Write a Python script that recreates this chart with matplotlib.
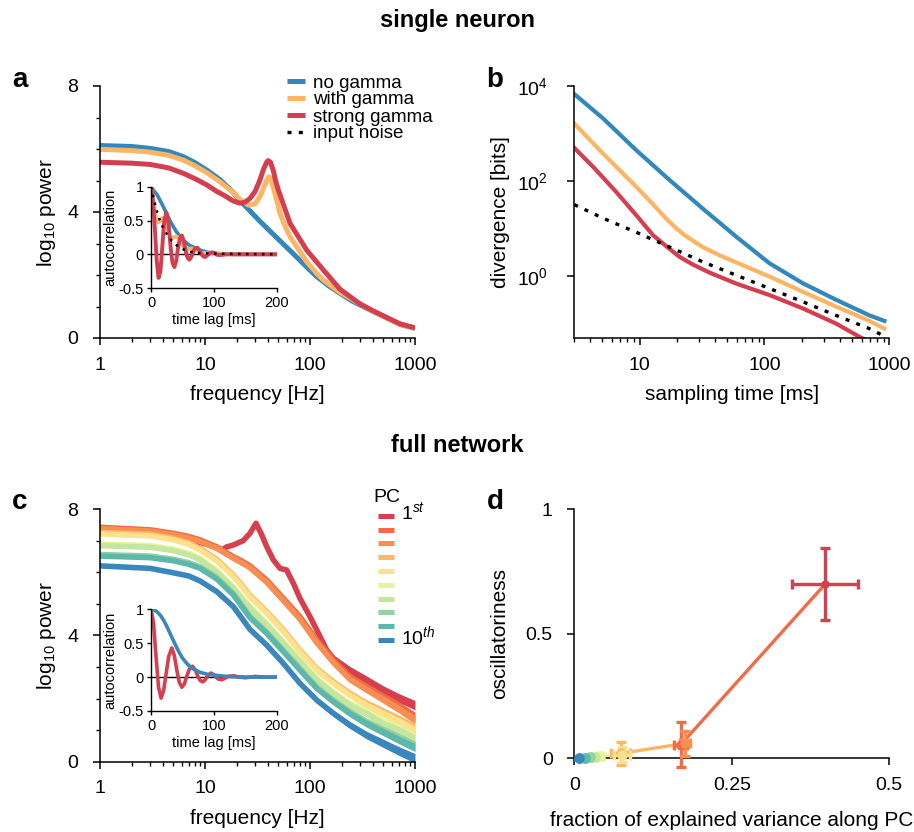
import numpy as np
import matplotlib
matplotlib.use('Agg')
import matplotlib.pyplot as plt
from matplotlib.lines import Line2D
from matplotlib.ticker import FixedLocator, NullFormatter, NullLocator, LogLocator

plt.rcParams['font.family'] = ['Liberation Sans', 'DejaVu Sans']
plt.rcParams['mathtext.fontset'] = 'custom'
plt.rcParams['mathtext.rm'] = 'Liberation Sans'
plt.rcParams['mathtext.it'] = 'Liberation Sans:italic'
plt.rcParams['axes.unicode_minus'] = False

# ---------------- data ----------------
c_nogamma = '#3288bd'
c_gamma = '#fdb463'
c_strong = '#d53e4f'
pc_colors = ['#d6404e', '#f26a46', '#f98e52', '#fdb865', '#fee18d',
             '#e9f49a', '#c4e6a0', '#90d3a0', '#5db8aa', '#3a87bd']

# panel a: single-neuron power spectra (log10 power)
freq_nogamma = [1, 2, 3, 4.5, 6.2, 8, 10.4, 14, 18.6, 21.5, 25, 33, 48, 70, 100, 116,
                150, 193, 250, 400, 720, 1000]
pow_nogamma = [6.11, 6.08, 6.02, 5.92, 5.76, 5.57, 5.33, 5.02, 4.62, 4.36, 4.14, 3.72,
               3.19, 2.66, 2.15, 1.95, 1.66, 1.42, 1.18, 0.84, 0.43, 0.31]
freq_gamma = [1, 2, 3, 4.5, 6.2, 8, 10.4, 14, 18.6, 21.5, 25.9, 30, 33.4, 36, 38.7, 40.5,
              42.5, 44.6, 48, 51.8, 57, 64.5, 75, 93, 116, 134, 193, 400, 720, 1000]
pow_gamma = [5.99, 5.95, 5.90, 5.80, 5.65, 5.47, 5.25, 4.95, 4.62, 4.40, 4.22, 4.26, 4.49,
             4.75, 5.0, 5.12, 5.05, 4.80, 4.40, 3.96, 3.6, 3.22, 2.89, 2.42, 2.05, 1.84,
             1.45, 0.84, 0.43, 0.31]
freq_strong = [1, 2, 3, 4.5, 6.2, 8, 10.4, 13, 15, 18.6, 21.5, 24, 26.8, 30, 33.4, 36,
               38.7, 40, 42, 44.6, 47, 49.9, 55, 64.5, 75, 93, 116, 134, 193, 300, 400,
               720, 1000]
pow_strong = [5.58, 5.55, 5.51, 5.40, 5.23, 5.06, 4.86, 4.65, 4.54, 4.35, 4.28, 4.31,
              4.43, 4.65, 5.02, 5.35, 5.58, 5.63, 5.58, 5.33, 5.0, 4.70, 4.3, 3.64, 3.29,
              2.79, 2.41, 2.16, 1.55, 1.08, 0.86, 0.45, 0.32]

# panel a inset: autocorrelations
lag_nogamma = [0, 10, 20, 30, 40, 50, 60, 75, 90, 110, 130, 200]
ac_nogamma = [1.0, 0.88, 0.70, 0.50, 0.34, 0.22, 0.14, 0.07, 0.03, 0.01, 0.0, 0.0]
lag_gamma = [0, 3, 6, 9, 12, 15, 18, 21, 24, 27, 30, 33, 36, 40, 44, 48, 52, 56, 60, 65,
             70, 75, 80, 85, 90, 100, 120, 200]
ac_gamma = [1.0, 0.82, 0.62, 0.5, 0.47, 0.5, 0.54, 0.52, 0.44, 0.34, 0.27, 0.24, 0.25,
            0.27, 0.24, 0.17, 0.11, 0.08, 0.08, 0.09, 0.07, 0.04, 0.02, 0.02, 0.02, 0.01,
            0.0, 0.0]
lag_strong = [0, 3, 6, 9, 12, 15, 18, 21, 24.5, 28, 31, 34, 37, 40, 43, 46, 49, 52, 55,
              58, 61, 64, 67, 70, 73.5, 77, 80, 83, 86, 90, 94, 98, 102, 106, 110, 120, 200]
ac_strong = [1.0, 0.82, 0.4, -0.08, -0.35, -0.25, 0.12, 0.5, 0.62, 0.45, 0.12, -0.12,
             -0.19, -0.1, 0.1, 0.24, 0.28, 0.2, 0.05, -0.05, -0.08, -0.04, 0.04, 0.09,
             0.1, 0.06, 0.0, -0.03, -0.04, -0.01, 0.02, 0.03, 0.01, -0.01, -0.01, 0.0, 0.0]
lag_noise = [0, 5, 10, 15, 20, 25, 30, 40, 50, 60, 75, 100, 200]
ac_noise = [1.0, 0.8, 0.62, 0.48, 0.38, 0.3, 0.23, 0.14, 0.08, 0.04, 0.02, 0.01, 0.0]

# panel b: divergence [bits] vs sampling time [ms]
t_nogamma = [3, 5.09, 9.4, 17.4, 32.1, 59.3, 110, 203, 374, 692, 912]
div_nogamma = [6760, 2090, 447, 105, 26.3, 6.8, 1.86, 0.71, 0.32, 0.15, 0.115]
t_gamma = [3, 5.09, 9.4, 12.8, 16.3, 19.8, 23.6, 32.1, 43.6, 59.3, 110, 203, 374, 692, 912]
div_gamma = [1620, 380, 76, 32.7, 16.3, 10.0, 6.9, 4.1, 2.76, 1.95, 0.98, 0.47, 0.23,
             0.115, 0.079]
t_strong = [3, 4.37, 6.5, 9.4, 12.8, 16.3, 20.9, 26.7, 36.3, 59.3, 110, 203, 374, 593, 700]
div_strong = [500, 184, 59, 19.2, 7.3, 4.3, 2.55, 1.76, 1.19, 0.70, 0.40, 0.21, 0.101,
              0.051, 0.042]
t_noise = [3, 5.09, 9.4, 17.4, 32.1, 59.3, 110, 203, 374, 692, 885]
div_noise = [32, 16.6, 8.4, 4.1, 2.0, 1.05, 0.55, 0.29, 0.15, 0.079, 0.057]

# panel c: network PC power spectra (log10 power)
freq_pc1 = [1, 3, 5, 7.7, 10.4, 12.9, 14.4, 16.1, 18.6, 23.2, 26.8, 30.6, 34.5, 38.7,
            44.7, 51.8, 59.8, 69.4, 80.3, 100, 116, 144, 167, 240, 347, 500, 720, 1000]
pow_pc1 = [7.38, 7.3, 7.17, 7.0, 6.88, 6.78, 6.7, 6.8, 6.86, 7.0, 7.23, 7.55, 7.2, 6.81,
           6.39, 6.12, 6.07, 5.65, 5.17, 4.59, 4.17, 3.54, 3.27, 2.9, 2.59, 2.27, 2.0, 1.79]
noise_hw_pc1 = [0.02, 0.02, 0.02, 0.02, 0.02, 0.03, 0.03, 0.03, 0.03, 0.04, 0.04, 0.04,
                0.05, 0.05, 0.06, 0.06, 0.07, 0.07, 0.08, 0.09, 0.09, 0.1, 0.1, 0.11,
                0.12, 0.13, 0.14, 0.15]
freq_pc = [1, 3, 5, 7, 9, 13, 18.6, 22, 26.8, 38.7, 55.8, 80.3, 116, 167, 240, 347, 500, 720, 1000]
pow_pc2 = [7.42, 7.34, 7.23, 7.13, 7.02, 6.80, 6.49, 6.37, 6.20, 5.75, 5.17, 4.59, 3.85, 3.22, 2.69, 2.37, 2.06, 1.74, 1.42]
pow_pc3 = [7.38, 7.30, 7.19, 7.08, 6.97, 6.75, 6.44, 6.31, 6.14, 5.68, 5.10, 4.51, 3.77, 3.14, 2.61, 2.29, 1.98, 1.66, 1.34]
pow_pc4 = [7.26, 7.20, 7.07, 6.93, 6.75, 6.40, 5.91, 5.63, 5.27, 4.75, 4.17, 3.53, 2.95, 2.53, 2.16, 1.84, 1.58, 1.32, 1.05]
pow_pc5 = [7.21, 7.15, 7.02, 6.88, 6.70, 6.35, 5.86, 5.58, 5.22, 4.70, 4.12, 3.48, 2.90, 2.48, 2.11, 1.79, 1.53, 1.27, 1.00]
pow_pc6 = [6.89, 6.84, 6.73, 6.60, 6.44, 6.05, 5.54, 5.25, 4.92, 4.38, 3.80, 3.22, 2.64, 2.21, 1.84, 1.58, 1.26, 1.05, 0.79]
pow_pc7 = [6.84, 6.79, 6.68, 6.55, 6.39, 6.00, 5.49, 5.20, 4.87, 4.33, 3.75, 3.17, 2.59, 2.16, 1.79, 1.53, 1.21, 1.00, 0.74]
pow_pc8 = [6.56, 6.51, 6.41, 6.30, 6.17, 5.83, 5.33, 5.00, 4.61, 4.11, 3.53, 2.95, 2.37, 1.95, 1.58, 1.26, 1.00, 0.74, 0.52]
pow_pc9 = [6.51, 6.46, 6.36, 6.25, 6.12, 5.78, 5.28, 4.95, 4.56, 4.06, 3.48, 2.90, 2.32, 1.90, 1.53, 1.21, 0.95, 0.69, 0.47]
pow_pc10 = [6.20, 6.12, 5.98, 5.88, 5.72, 5.38, 4.91, 4.58, 4.19, 3.69, 3.11, 2.48, 1.95, 1.53, 1.16, 0.84, 0.58, 0.32, 0.11]
noise_hw_pc = [0.02, 0.02, 0.02, 0.02, 0.02, 0.03, 0.03, 0.04, 0.05, 0.06, 0.07, 0.08,
               0.09, 0.10, 0.11, 0.12, 0.13, 0.14, 0.15]

# panel c inset: autocorrelations of PC1 and PC10
lag_pc1 = [0, 4, 8, 12, 16, 20, 24, 28, 33, 37, 41, 45, 49, 53, 57, 61, 66, 70, 74, 78, 82,
           86, 90, 95, 99, 103, 107, 112, 117, 122, 131, 140, 150, 165, 180, 200]
ac_pc1 = [1.0, 0.8, 0.3, -0.15, -0.31, -0.2, 0.05, 0.3, 0.43, 0.32, 0.1, -0.08, -0.15,
          -0.1, 0.02, 0.12, 0.16, 0.11, 0.02, -0.05, -0.07, -0.04, 0.02, 0.06, 0.04, 0.0,
          -0.03, -0.04, -0.02, 0.01, 0.02, 0.0, -0.01, 0.01, 0.0, 0.0]
lag_pc10 = [0, 5, 10, 15, 20, 25, 30, 35, 40, 45, 50, 57, 65, 78, 90, 100, 120, 150, 200]
ac_pc10 = [1.0, 0.99, 0.96, 0.91, 0.84, 0.75, 0.65, 0.55, 0.45, 0.36, 0.28, 0.2, 0.13,
           0.07, 0.04, 0.03, 0.01, 0.0, 0.0]

# panel d: oscillatoriness vs fraction of explained variance per PC
var_frac = [0.398, 0.169, 0.176, 0.074, 0.076, 0.041, 0.033, 0.025, 0.017, 0.008]
var_err = [0.052, 0.010, 0.008, 0.015, 0.013, 0.004, 0.003, 0.002, 0.002, 0.001]
osc = [0.699, 0.055, 0.06, 0.02, 0.015, 0.008, 0.006, 0.004, 0.002, 0.0]
osc_err = [0.145, 0.09, 0.05, 0.047, 0.03, 0.01, 0.008, 0.006, 0.004, 0.002]

# ---------------- figure ----------------
W, H = 914, 832
fig = plt.figure(figsize=(W / 100, H / 100), dpi=100)


def px_rect(l, t, r, b):
    return [l / W, 1 - b / H, (r - l) / W, (b - t) / H]


def fx(x):
    return x / W


def fy(y):
    return 1 - y / H


def style(ax, size=14, major=5, minor=2.8, padx=8.5, pady=10.5, lw=1.1):
    for s in ['top', 'right']:
        ax.spines[s].set_visible(False)
    for s in ['left', 'bottom']:
        ax.spines[s].set_linewidth(lw)
    ax.tick_params(which='major', direction='out', length=major, width=lw, labelsize=size)
    ax.tick_params(which='minor', direction='out', length=minor, width=lw * 0.9)
    ax.tick_params(axis='x', which='major', pad=padx)
    ax.tick_params(axis='y', which='major', pad=pady)


def log_freq_axis(ax):
    ax.set_xscale('log')
    ax.set_xlim(1, 1000)
    ax.set_ylim(0, 8)
    ax.set_xticks([1, 10, 100, 1000], labels=['1', '10', '100', '1000'])
    ax.xaxis.set_minor_locator(LogLocator(base=10, subs=np.arange(2, 10)))
    ax.xaxis.set_minor_formatter(NullFormatter())
    ax.set_yticks([0, 4, 8], labels=['0', '4', '8'])
    ax.yaxis.set_minor_locator(FixedLocator([1, 2, 3, 5, 6, 7]))
    ax.set_xlabel('frequency [Hz]', fontsize=15, labelpad=8)
    ax.set_ylabel(r'log$_{\mathregular{10}}$ power', fontsize=15, labelpad=7)


def inset_axis(ax):
    style(ax, size=10.5, major=3.2, padx=2.5, pady=2, lw=1.0)
    ax.patch.set_alpha(0)
    ax.set_xlim(0, 200)
    ax.set_ylim(-0.5, 1)
    ax.set_xticks([0, 100, 200], labels=['0', '100', '200'])
    ax.set_yticks([-0.5, 0, 0.5, 1], labels=['-0.5', '0', '0.5', '1'])
    ax.axhline(0, color='black', lw=1.0, zorder=1)
    ax.set_xlabel('time lag [ms]', fontsize=10.5, labelpad=2)
    ax.set_ylabel('autocorrelation', fontsize=10.5, labelpad=1)


# titles and panel letters
fig.text(0.5, fy(20), 'single neuron', ha='center', va='center', fontsize=17, fontweight='bold')
fig.text(0.5, fy(445), 'full network', ha='center', va='center', fontsize=17, fontweight='bold')
for letter, (x, y) in zip('abcd', [(20, 80), (495, 80), (20, 502), (495, 502)]):
    fig.text(fx(x), fy(y), letter, ha='center', va='center', fontsize=20, fontweight='bold')

# ---- panel a ----
axa = fig.add_axes(px_rect(100, 86, 415, 338))
style(axa)
log_freq_axis(axa)
axa.plot(freq_nogamma, pow_nogamma, color=c_nogamma, lw=3.6, solid_capstyle='butt')
axa.plot(freq_gamma, pow_gamma, color=c_gamma, lw=3.6, solid_capstyle='butt')
axa.plot(freq_strong, pow_strong, color=c_strong, lw=3.6, solid_capstyle='butt')

leg_a = [('no gamma', c_nogamma, '-'), ('with gamma', c_gamma, '-'),
         ('strong gamma', c_strong, '-'), ('input noise', 'black', (0, (1.2, 2.2)))]
for i, (lab, col, ls) in enumerate(leg_a):
    y = 81 + i * 17
    lw = 3.6 if ls == '-' else 2.4
    fig.add_artist(Line2D([fx(287), fx(305)], [fy(y), fy(y)], color=col, lw=lw, ls=ls,
                          transform=fig.transFigure, solid_capstyle='butt', dash_capstyle='butt'))
    fig.text(fx(313), fy(y), lab, ha='left', va='center_baseline', fontsize=13.5)

axai = fig.add_axes(px_rect(151, 187, 277, 288))
inset_axis(axai)
axai.plot(lag_nogamma, ac_nogamma, color=c_nogamma, lw=2.6)
axai.plot(lag_gamma, ac_gamma, color=c_gamma, lw=2.6)
axai.plot(lag_strong, ac_strong, color=c_strong, lw=2.8)
axai.plot(lag_noise, ac_noise, color='black', lw=1.8, ls=(0, (1, 2.2)))

# ---- panel b ----
axb = fig.add_axes(px_rect(574.3, 86, 889.3, 338))
style(axb, pady=14)
axb.set_xscale('log')
axb.set_yscale('log')
axb.set_xlim(3, 1000)
axb.set_ylim(10 ** -1.3, 1e4)
axb.plot(t_nogamma, div_nogamma, color=c_nogamma, lw=3.0)
axb.plot(t_gamma, div_gamma, color=c_gamma, lw=3.0)
axb.plot(t_strong, div_strong, color=c_strong, lw=3.0)
axb.plot(t_noise, div_noise, color='black', lw=2.4, ls=(0, (1.2, 2.2)), dash_capstyle='butt')
axb.set_xticks([10, 100, 1000], labels=['10', '100', '1000'])
axb.xaxis.set_minor_locator(LogLocator(base=10, subs=np.arange(2, 10)))
axb.xaxis.set_minor_formatter(NullFormatter())
axb.set_yticks([1, 100, 1e4], labels=[r'$\mathregular{10^0}$', r'$\mathregular{10^2}$',
                                      r'$\mathregular{10^4}$'])
axb.yaxis.set_minor_locator(NullLocator())
axb.set_xlabel('sampling time [ms]', fontsize=15, labelpad=8)
axb.set_ylabel('divergence [bits]', fontsize=15, labelpad=5)

# ---- panel c ----
axc = fig.add_axes(px_rect(100, 509, 415, 761.7))
style(axc)
log_freq_axis(axc)
pc_series = [pow_pc2, pow_pc3, pow_pc4, pow_pc5, pow_pc6, pow_pc7, pow_pc8, pow_pc9, pow_pc10]
p1 = np.array(pow_pc1)
h1 = np.array(noise_hw_pc1)
axc.fill_between(freq_pc1, p1 - h1, p1 + h1, color=pc_colors[0], lw=0)
axc.plot(freq_pc1, pow_pc1, color=pc_colors[0], lw=4.0)
hw = np.array(noise_hw_pc)
for k, s in enumerate(pc_series):
    s = np.array(s)
    col = pc_colors[k + 1]
    axc.fill_between(freq_pc, s - hw, s + hw, color=col, lw=0)
    axc.plot(freq_pc, s, color=col, lw=4.0)

fig.text(fx(387), fy(496), 'PC', ha='center', va='center_baseline', fontsize=14)
for i, col in enumerate(pc_colors):
    y = 515.7 + i * 13.8
    fig.add_artist(Line2D([fx(378.3), fx(394.3)], [fy(y), fy(y)], color=col, lw=3.6,
                          transform=fig.transFigure, solid_capstyle='butt'))
fig.text(fx(401), fy(515.7 + 4), r'1$^{st}$', ha='left', va='baseline', fontsize=14)
fig.text(fx(401), fy(515.7 + 9 * 13.8 + 4), r'10$^{th}$', ha='left', va='baseline', fontsize=14)

axci = fig.add_axes(px_rect(151, 609.3, 277, 711))
inset_axis(axci)
axci.plot(lag_pc1, ac_pc1, color=pc_colors[0], lw=2.6)
axci.plot(lag_pc10, ac_pc10, color=pc_colors[9], lw=2.6)

# ---- panel d ----
axd = fig.add_axes(px_rect(574.3, 509.3, 889.3, 758.3))
style(axd)
axd.set_xlim(0, 0.5)
axd.set_ylim(0, 1)
axd.set_xticks([0, 0.25, 0.5], labels=['0', '0.25', '0.5'])
axd.set_yticks([0, 0.5, 1], labels=['0', '0.5', '1'])
for i in range(len(var_frac) - 1):
    axd.plot(var_frac[i:i + 2], osc[i:i + 2], color=pc_colors[i + 1], lw=2.4,
             zorder=2, clip_on=False, solid_capstyle='round')
for i in range(len(var_frac)):
    axd.errorbar(var_frac[i], osc[i], xerr=var_err[i], yerr=osc_err[i],
                 color=pc_colors[i], marker='o', ms=5 if i == 0 else 6.5,
                 elinewidth=2.4, capsize=3.5, capthick=2.4, zorder=3 + i * 0.01,
                 clip_on=False)
axd.set_xlabel('fraction of explained variance along PC', fontsize=15, labelpad=12)
axd.set_ylabel('oscillatoriness', fontsize=15, labelpad=12)

fig.savefig('out.png', dpi=100)
